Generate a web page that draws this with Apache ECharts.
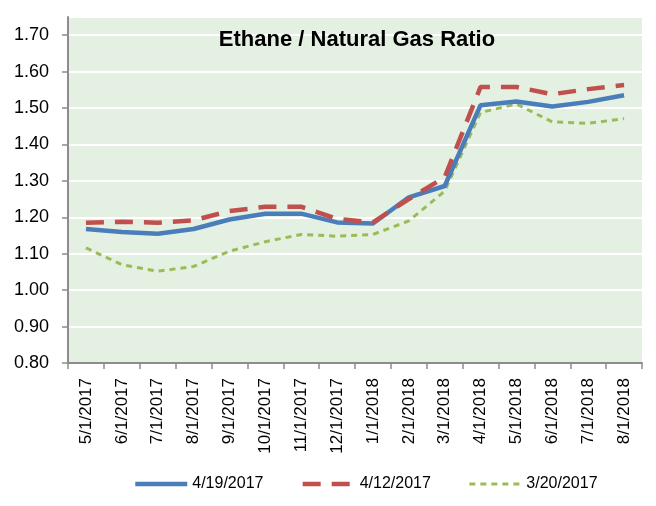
<html>
<head>
    <meta charset='utf-8'>
    <script src='https://cdn.jsdelivr.net/npm/echarts@6/dist/echarts.min.js'></script>
    <style>
        html, body, #main {
            width: 100%;
            height: 100%;
            margin: 0;
            background: #fff;
        }
    </style>
</head>
<body>
<div id='main'></div>
<script>
    var months = ['5/1/2017', '6/1/2017', '7/1/2017', '8/1/2017', '9/1/2017', '10/1/2017',
        '11/1/2017', '12/1/2017', '1/1/2018', '2/1/2018', '3/1/2018', '4/1/2018',
        '5/1/2018', '6/1/2018', '7/1/2018', '8/1/2018'];
    var apr19 = [1.168, 1.160, 1.155, 1.168, 1.194, 1.210, 1.210, 1.186,
        1.183, 1.255, 1.286, 1.508, 1.518, 1.504, 1.517, 1.535];
    var apr12 = [1.185, 1.188, 1.185, 1.192, 1.217, 1.229, 1.229, 1.196,
        1.186, 1.250, 1.310, 1.558, 1.558, 1.538, 1.552, 1.563];
    var mar20 = [1.116, 1.070, 1.052, 1.065, 1.107, 1.133, 1.153, 1.148,
        1.153, 1.190, 1.272, 1.488, 1.511, 1.462, 1.458, 1.471];

    var font = 'Liberation Sans';
    var axisGray = '#8c8c8c';

    var myChart = echarts.init(document.getElementById('main'));
    myChart.setOption({
        animation: false,
        backgroundColor: '#fff',
        title: {
            text: 'Ethane / Natural Gas Ratio',
            left: 352,
            top: 24,
            textAlign: 'center',
            textStyle: {
                fontFamily: font,
                fontWeight: 'bold',
                fontSize: 22,
                color: '#000'
            }
        },
        grid: {
            left: 68,
            right: 14,
            top: 17,
            bottom: 143,
            show: true,
            backgroundColor: '#e4f0e2',
            borderWidth: 0
        },
        legend: {
            bottom: 9,
            left: 128,
            itemWidth: 52,
            itemHeight: 12,
            itemGap: 37,
            itemStyle: { opacity: 0 },
            lineStyle: { width: 'inherit', type: 'inherit' },
            textStyle: {
                fontFamily: font,
                fontSize: 16,
                color: '#000'
            },
            data: ['4/19/2017', '4/12/2017', '3/20/2017']
        },
        xAxis: {
            type: 'category',
            data: months,
            boundaryGap: true,
            axisLine: { lineStyle: { color: axisGray, width: 2 } },
            axisTick: { show: true, length: 6, lineStyle: { color: axisGray, width: 1.5 } },
            axisLabel: {
                rotate: 90,
                interval: 0,
                margin: 15,
                fontFamily: font,
                fontSize: 17,
                color: '#000'
            },
            splitLine: { show: false }
        },
        yAxis: {
            type: 'value',
            min: 0.8,
            max: 1.75,
            interval: 0.1,
            axisLine: { show: true, lineStyle: { color: axisGray, width: 2 } },
            axisTick: { show: true, length: 6, lineStyle: { color: axisGray, width: 1.5 } },
            axisLabel: {
                showMaxLabel: false,
                margin: 19,
                fontFamily: font,
                fontSize: 18,
                color: '#000',
                formatter: function (v) {
                    return v.toFixed(2);
                }
            },
            splitLine: { show: true, lineStyle: { color: '#ffffff', width: 2 } }
        },
        series: [
            {
                name: '4/19/2017',
                type: 'line',
                data: apr19,
                symbol: 'none',
                z: 3,
                itemStyle: { color: '#4a7ebb' },
                lineStyle: { color: '#4a7ebb', width: 4.5 }
            },
            {
                name: '4/12/2017',
                type: 'line',
                data: apr12,
                symbol: 'none',
                z: 4,
                itemStyle: { color: '#c0504d' },
                lineStyle: { color: '#c0504d', width: 4.5, type: [18, 11] }
            },
            {
                name: '3/20/2017',
                type: 'line',
                data: mar20,
                symbol: 'none',
                z: 2,
                itemStyle: { color: '#9bbb59' },
                lineStyle: { color: '#9bbb59', width: 3, type: [6, 5] }
            }
        ]
    });
</script>
</body>
</html>
